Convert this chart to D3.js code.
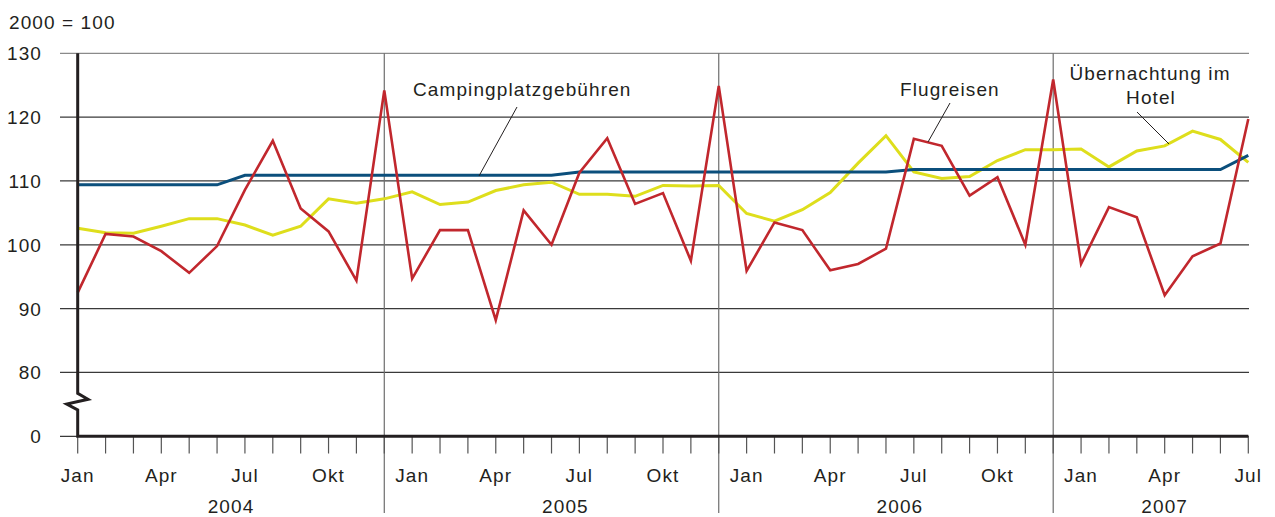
<!DOCTYPE html>
<html><head><meta charset="utf-8">
<script src="https://cdn.jsdelivr.net/npm/d3@7"></script>
<style>
body{margin:0;background:#fff;}
text{font-family:"Liberation Sans",Arial,sans-serif;fill:#231f20;}
</style></head>
<body>
<svg id="chart" width="1275" height="517"></svg>
<script>
const months = ["Jan","Feb","Mär","Apr","Mai","Jun","Jul","Aug","Sep","Okt","Nov","Dez"];
const years = ["2004","2005","2006","2007"];
const monthLabelsShown = ["Jan","Apr","Jul","Okt"];
const yTicks = [80,90,100,110,120,130];
const yBreakLabel = "0";
const unitLabel = "2000 = 100";

const flugreisen = [92.5,101.7,101.3,99.0,95.6,99.8,108.6,116.3,105.7,102.1,94.4,124.2,
  94.7,102.3,102.3,88.2,105.4,100.0,111.3,116.7,106.4,108.1,97.5,124.9,
  95.9,103.5,102.3,96.0,97.0,99.4,116.6,115.5,107.7,110.6,100.0,125.9,
  97.0,105.9,104.3,92.1,98.2,100.2,119.7];
const camping = [109.4,109.4,109.4,109.4,109.4,109.4,110.9,110.9,110.9,110.9,110.9,110.9,
  110.9,110.9,110.9,110.9,110.9,110.9,111.4,111.4,111.4,111.4,111.4,111.4,
  111.4,111.4,111.4,111.4,111.4,111.4,111.8,111.8,111.8,111.8,111.8,111.8,
  111.8,111.8,111.8,111.8,111.8,111.8,114.0];
const hotel = [102.6,101.9,101.8,102.9,104.1,104.1,103.1,101.5,102.9,107.2,106.5,107.2,
  108.3,106.3,106.7,108.5,109.4,109.8,107.9,107.9,107.6,109.3,109.2,109.3,
  104.9,103.7,105.5,108.2,112.8,117.1,111.4,110.4,110.7,113.2,114.9,114.9,
  115.0,112.2,114.7,115.5,117.8,116.5,112.9];

const seriesLabels = ["Campingplatzgebühren","Flugreisen","Übernachtung im","Hotel"];

// build month index list
const periods = [];
years.forEach((y,yi)=>months.forEach((m,mi)=>{ periods.push({year:y,month:m,yi,mi}); }));
const data = periods.slice(0, flugreisen.length).map((p,i)=>({...p,i}));
const N = data.length;

const svg = d3.select("#chart");
const x = d3.scaleLinear().domain([0,N-1]).range([77.7,1248.3]);
const y = d3.scaleLinear().domain([70,130]).range([436.3,53.3]);
const FS = 19, LS = "1.1px";

// horizontal grid lines
const gridVals = [70].concat(yTicks);
svg.append("g").selectAll("line").data(gridVals).join("line")
  .attr("x1",60).attr("x2",1249)
  .attr("y1",d=>y(d)).attr("y2",d=>y(d))
  .attr("stroke",d=>d===130?"#8a8a8a":"#3a3a3a").attr("stroke-width",1.2);

// year dividers at December
const decIdx = data.filter(d=>d.mi===11).map(d=>d.i);
svg.append("g").selectAll("line").data(decIdx).join("line")
  .attr("x1",d=>x(d)).attr("x2",d=>x(d)).attr("y1",53.3).attr("y2",513)
  .attr("stroke","#6d6d6d").attr("stroke-width",1.2);

// month ticks
svg.append("g").selectAll("line").data(data).join("line")
  .attr("x1",d=>x(d.i)).attr("x2",d=>x(d.i)).attr("y1",436).attr("y2",453.5)
  .attr("stroke","#555").attr("stroke-width",1.2);

// y labels
svg.append("g").selectAll("text").data(yTicks).join("text")
  .attr("x",42).attr("y",d=>y(d)+7).attr("text-anchor","end")
  .attr("font-size",FS).style("letter-spacing",LS).text(d=>d);
svg.append("text").attr("x",42).attr("y",y(70)+7).attr("text-anchor","end")
  .attr("font-size",FS).style("letter-spacing",LS).text(yBreakLabel);
svg.append("text").attr("x",9).attr("y",29)
  .attr("font-size",FS).style("letter-spacing",LS).text(unitLabel);

// month labels
svg.append("g").selectAll("text").data(data.filter(d=>monthLabelsShown.includes(d.month))).join("text")
  .attr("x",d=>x(d.i)).attr("y",482).attr("text-anchor","middle")
  .attr("font-size",FS).style("letter-spacing",LS).text(d=>d.month);
// year labels
years.forEach((yr,yi)=>{
  const idx = data.filter(d=>d.yi===yi).map(d=>d.i);
  const cx = (x(d3.min(idx))+x(d3.max(idx)))/2;
  svg.append("text").attr("x",cx).attr("y",513).attr("text-anchor","middle")
    .attr("font-size",FS).style("letter-spacing",LS).text(yr);
});

// lines
const line = arr => d3.line().x((d,i)=>x(i)).y(d=>y(d))(arr);
svg.append("path").attr("d",line(hotel)).attr("fill","none").attr("stroke","#dede1c").attr("stroke-width",3).attr("stroke-linejoin","miter");
svg.append("path").attr("d",line(camping)).attr("fill","none").attr("stroke","#0b4f7c").attr("stroke-width",3);
svg.append("path").attr("d",line(flugreisen)).attr("fill","none").attr("stroke","#c1272d").attr("stroke-width",2.6).attr("stroke-linejoin","miter");

// axes (thick)
svg.append("path")
  .attr("d",`M${x(0)},${y(130)} V393.3 L88,399.3 L66.7,404 L${x(0)},410 V${y(70)} H${x(N-1)}`)
  .attr("fill","none").attr("stroke","#231f20").attr("stroke-width",3);

// annotations
const ann = svg.append("g");
ann.append("text").attr("x",413).attr("y",96).attr("font-size",FS).style("letter-spacing",LS).text(seriesLabels[0]);
ann.append("line").attr("x1",517).attr("y1",107).attr("x2",479).attr("y2",176).attr("stroke","#231f20").attr("stroke-width",1);
ann.append("text").attr("x",900).attr("y",96).attr("font-size",FS).style("letter-spacing",LS).text(seriesLabels[1]);
ann.append("line").attr("x1",950).attr("y1",103).attr("x2",928).attr("y2",142).attr("stroke","#231f20").attr("stroke-width",1);
ann.append("text").attr("x",1150).attr("y",79.5).attr("text-anchor","middle").attr("font-size",FS).style("letter-spacing",LS).text(seriesLabels[2]);
ann.append("text").attr("x",1151).attr("y",104).attr("text-anchor","middle").attr("font-size",FS).style("letter-spacing",LS).text(seriesLabels[3]);
ann.append("line").attr("x1",1137).attr("y1",112).attr("x2",1169).attr("y2",144).attr("stroke","#231f20").attr("stroke-width",1);
</script>
</body></html>
